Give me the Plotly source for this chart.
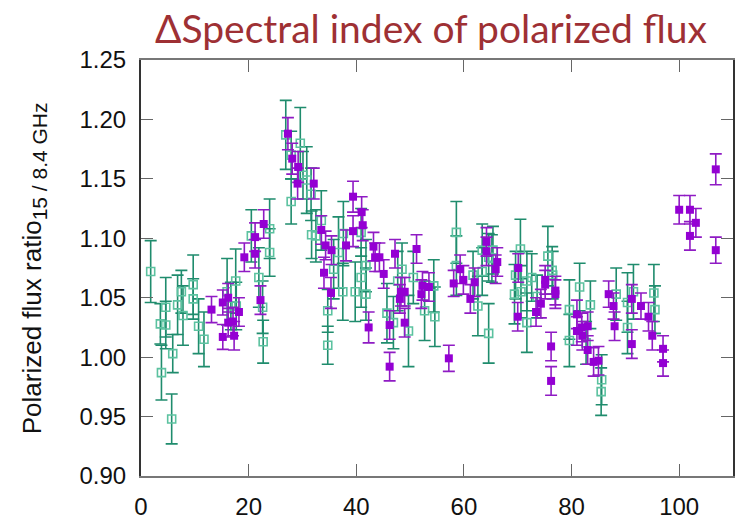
import plotly.graph_objects as go

# Open squares (green series): position, ratio, 1-sigma error
green_x = [1.8, 4.6, 3.6, 4.6, 3.8, 5.7, 5.9, 6.8, 7.5, 7.8, 9.7, 9.7, 10.7, 11.7,
           16.0, 16.7, 17.6, 17.7, 20.5, 21.9, 22.6, 22.7, 23.9, 23.9,
           26.9, 27.9, 29.6, 30.1, 27.9, 30.8, 31.6, 31.7, 33.5, 32.5,
           34.7, 34.7, 35.8, 36.7, 37.6, 37.5, 39.8, 40.9, 40.9, 41.8, 41.8,
           45.7, 46.9, 47.7, 48.5, 49.7, 50.6, 52.7, 54.4, 54.6, 58.6, 58.6,
           61.7, 62.6, 63.4, 63.4, 64.6, 64.6, 65.4, 65.2, 69.4, 69.6, 70.5,
           70.6, 71.7, 71.7, 72.6, 73.6, 75.6, 76.4, 76.5, 79.6, 79.6, 81.5,
           82.7, 83.5, 85.6, 85.5, 88.3, 90.4, 90.4, 91.5, 95.3, 95.5]
green_y = [1.072, 1.042, 1.028, 1.027, 0.987, 0.948, 1.003, 1.044, 1.055, 1.035, 1.061, 1.049, 1.026, 1.015,
           1.055, 1.043, 1.064, 1.043, 1.102, 1.067, 1.042, 1.013, 1.108, 1.088,
           1.187, 1.170, 1.180, 1.153, 1.131, 1.149, 1.137, 1.103, 1.115, 1.102,
           1.039, 1.010, 1.074, 1.088, 1.104, 1.055, 1.055, 1.105, 1.067, 1.077, 1.053,
           1.037, 1.029, 1.064, 1.074, 1.022, 1.067, 1.039, 1.060, 1.034, 1.105, 1.077,
           1.069, 1.043, 1.072, 1.090, 1.084, 1.020, 1.090, 1.083, 1.053, 1.069, 1.091,
           1.055, 1.064, 1.029, 1.067, 1.051, 1.085, 1.073, 1.069, 1.040, 1.014, 1.059,
           1.012, 1.044, 0.981, 0.971, 1.053, 1.046, 1.025, 1.055, 1.054, 1.040]
green_err = [0.026, 0.025, 0.017, 0.020, 0.023, 0.021, 0.016, 0.025, 0.018, 0.025, 0.025, 0.017, 0.023, 0.023,
             0.028, 0.020, 0.027, 0.020, 0.022, 0.025, 0.022, 0.018, 0.025, 0.020,
             0.029, 0.020, 0.030, 0.020, 0.019, 0.028, 0.022, 0.020, 0.025, 0.022,
             0.018, 0.016, 0.025, 0.030, 0.027, 0.024, 0.025, 0.020, 0.025, 0.022, 0.022,
             0.025, 0.022, 0.025, 0.022, 0.030, 0.022, 0.025, 0.022, 0.025, 0.026, 0.025,
             0.020, 0.025, 0.020, 0.022, 0.020, 0.025, 0.020, 0.020, 0.025, 0.020, 0.025,
             0.022, 0.025, 0.025, 0.020, 0.018, 0.025, 0.020, 0.020, 0.025, 0.022, 0.020,
             0.018, 0.020, 0.021, 0.020, 0.022, 0.025, 0.022, 0.023, 0.024, 0.020]

# Filled squares (purple series)
purple_x = [13.1, 15.2, 15.2, 16.2, 16.2, 17.1, 17.3, 18.2, 19.2, 21.2, 21.2, 22.2, 22.8,
            27.3, 28.1, 29.2, 29.1, 32.1, 33.5, 34.3, 35.4, 34.0, 35.3, 38.1, 39.4, 39.4,
            41.0, 41.2, 42.3, 43.2, 43.5, 44.3, 45.1, 46.2, 46.2, 47.2, 48.3, 49.0, 48.1,
            49.0, 51.2, 52.3, 53.5, 52.1, 57.2, 58.1, 59.3, 59.9, 61.2, 62.0, 64.2, 64.2,
            65.9, 66.2, 70.1, 70.0, 73.4, 74.3, 75.1, 75.1, 77.0, 77.0, 76.2, 76.2,
            81.0, 81.0, 81.9, 82.0, 83.0, 83.0, 84.1, 85.0, 86.9, 87.8, 88.0, 91.2, 91.2,
            92.9, 94.3, 95.0, 97.0, 97.0, 100.0, 102.0, 103.1, 102.0, 106.8, 106.8]
purple_y = [1.040, 1.046, 1.017, 1.050, 1.029, 1.030, 1.018, 1.038, 1.084, 1.101, 1.087, 1.048, 1.112,
            1.188, 1.167, 1.160, 1.146, 1.146, 1.107, 1.094, 1.090, 1.071, 1.054, 1.094, 1.135, 1.106,
            1.122, 1.111, 1.025, 1.093, 1.084, 1.084, 1.070, 1.027, 0.992, 1.087, 1.055, 1.055, 1.049,
            1.029, 1.091, 1.060, 1.059, 1.053, 0.999, 1.062, 1.074, 1.065, 1.049, 1.063, 1.097, 1.089,
            1.074, 1.080, 1.075, 1.034, 1.038, 1.045, 1.065, 1.061, 1.056, 1.053, 1.009, 0.980,
            1.036, 1.022, 1.025, 1.018, 1.026, 1.006, 0.996, 0.997, 1.053, 1.043, 1.026, 1.049, 1.011,
            1.043, 1.034, 1.018, 1.007, 0.995, 1.124, 1.124, 1.113, 1.102, 1.158, 1.090]
purple_err = [0.011, 0.0105, 0.0105, 0.012, 0.012, 0.012, 0.012, 0.012, 0.012, 0.012, 0.012, 0.012, 0.012,
              0.0135, 0.013, 0.013, 0.013, 0.013, 0.012, 0.012, 0.012, 0.013, 0.013, 0.013, 0.013, 0.013,
              0.013, 0.013, 0.013, 0.012, 0.012, 0.012, 0.012, 0.012, 0.012, 0.012, 0.012, 0.012, 0.012,
              0.012, 0.012, 0.012, 0.012, 0.012, 0.011, 0.011, 0.012, 0.012, 0.012, 0.012, 0.012, 0.012,
              0.012, 0.012, 0.012, 0.012, 0.012, 0.012, 0.012, 0.012, 0.012, 0.012, 0.012, 0.012,
              0.012, 0.012, 0.012, 0.012, 0.012, 0.012, 0.012, 0.012, 0.011, 0.011, 0.012, 0.012, 0.012,
              0.011, 0.012, 0.012, 0.011, 0.011, 0.012, 0.012, 0.012, 0.012, 0.013, 0.011]

x_ticks = [0, 20, 40, 60, 80, 100]
y_ticks = [0.90, 0.95, 1.00, 1.05, 1.10, 1.15, 1.20, 1.25]

fig = go.Figure()

fig.add_trace(go.Scatter(
    x=green_x, y=green_y, mode="markers",
    error_y=dict(type="data", array=green_err, visible=True,
                 color="#1f8c6d", thickness=1.6, width=6),
    marker=dict(symbol="square-open", size=8, color="#5cc2a0",
                line=dict(width=1.6, color="#5cc2a0")),
    showlegend=False,
))

fig.add_trace(go.Scatter(
    x=purple_x, y=purple_y, mode="markers",
    error_y=dict(type="data", array=purple_err, visible=True,
                 color="#8f1bc4", thickness=1.6, width=6),
    marker=dict(symbol="square", size=8, color="#9400d3",
                line=dict(width=0)),
    showlegend=False,
))

axis_font = dict(family="Arial", size=24, color="#111111")

fig.update_xaxes(
    range=[0, 110], tickvals=x_ticks, ticktext=[str(v) for v in x_ticks],
    ticks="inside", ticklen=12, tickwidth=1.3, tickcolor="#666666",
    showline=True, linecolor="#777777", linewidth=2, mirror="ticks",
    showgrid=False, zeroline=False, tickfont=axis_font, ticklabelstandoff=8,
)
fig.update_yaxes(
    range=[0.90, 1.25], tickvals=y_ticks, ticktext=[f"{v:.2f}" for v in y_ticks],
    ticks="inside", ticklen=12, tickwidth=1.3, tickcolor="#666666",
    showline=True, linecolor="#333333", linewidth=2, mirror="ticks",
    showgrid=False, zeroline=False, tickfont=axis_font, ticklabelstandoff=8,
)

fig.add_annotation(
    text='Polarized flux ratio<sub><span style="font-size:21px">15 / 8.4 GHz</span></sub>',
    xref="paper", yref="paper", x=-0.182, y=0.5, textangle=-90,
    showarrow=False, xanchor="center", yanchor="middle",
    font=dict(family="Arial", size=26, color="#111111"),
)

fig.update_layout(
    width=737, height=522,
    margin=dict(l=141, r=2, t=60, b=45),
    paper_bgcolor="white", plot_bgcolor="white",
    title=dict(text="ΔSpectral index of polarized flux",
               x=431 / 737, xanchor="center", xref="container",
               y=1 - 29 / 522, yanchor="middle", yref="container",
               font=dict(family="Lato, sans-serif", size=39, color="#9e3034")),
)

fig.write_html("out.html")
